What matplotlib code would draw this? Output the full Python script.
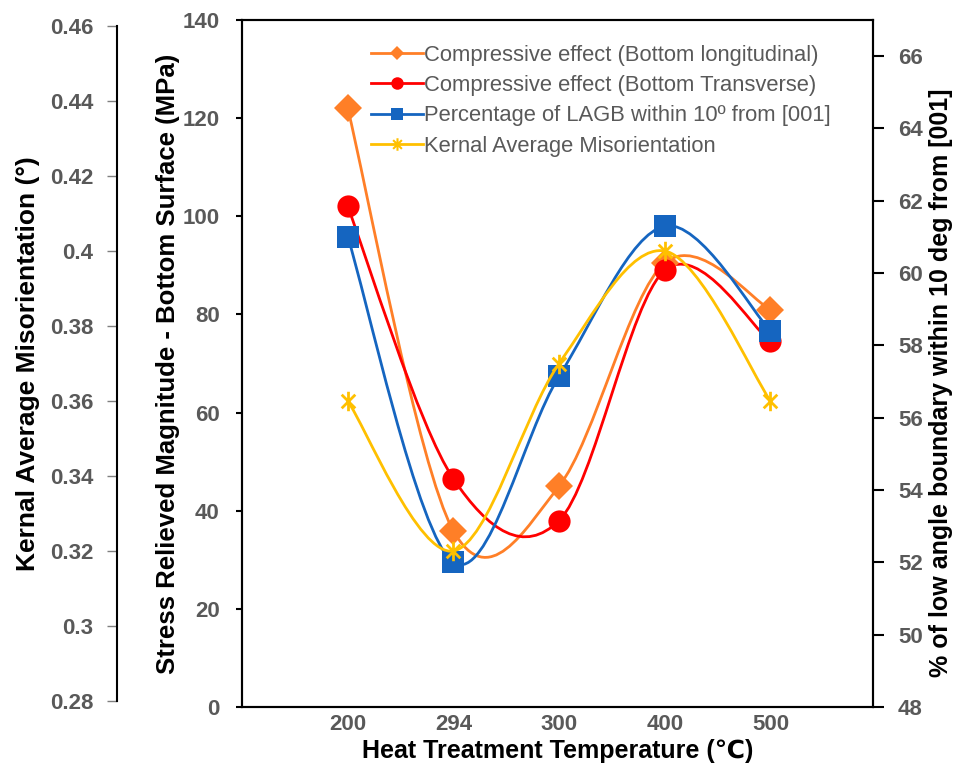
import numpy as np
import matplotlib as mpl
mpl.use('Agg')
from matplotlib import pyplot as plt
from matplotlib.path import Path
from matplotlib.patches import PathPatch
from matplotlib.lines import Line2D

mpl.rcParams.update({
    'font.family': ['Liberation Sans', 'DejaVu Sans'],
    'axes.linewidth': 1.5,
})

# data
temps = ['200', '294', '300', '400', '500']
long_effect = [122, 35.9, 45, 90.5, 81]        # MPa, left axis
trans_effect = [102, 46.5, 38, 89, 74.5]       # MPa, left axis
lagb_pct = [61.0, 52.0, 57.15, 61.3, 58.4]     # %, right axis
kam = [0.36, 0.32, 0.37, 0.40, 0.36]           # deg, far-left axis

labels = ['Compressive effect (Bottom longitudinal)',
          'Compressive effect (Bottom Transverse)',
          'Percentage of LAGB within 10\u00ba from [001]',
          'Kernal Average Misorientation']
colors = ['#FF7F27', '#FF0000', '#1565C0', '#FFC000']

TICK_GREY = '#595959'


def smooth_path(x, y):
    # Excel-like smoothed line: cubic Bezier through points (Catmull-Rom tangents)
    p = np.column_stack([x, y]).astype(float)
    n = len(p)
    verts = [p[0]]
    codes = [Path.MOVETO]
    for i in range(n - 1):
        p0 = p[i - 1] if i > 0 else p[i]
        p3 = p[i + 2] if i + 2 < n else p[i + 1]
        c1 = p[i] + (p[i + 1] - p0) / 6.0
        c2 = p[i + 1] - (p3 - p[i]) / 6.0
        verts += [c1, c2, p[i + 1]]
        codes += [Path.CURVE4] * 3
    return Path(verts, codes)


def draw_series(ax, y, color, marker, ms, mew=0):
    x = np.arange(len(y))
    ax.add_patch(PathPatch(smooth_path(x, y), fill=False, edgecolor=color,
                           linewidth=2.0, zorder=2))
    ax.plot(x, y, linestyle='none', marker=marker, markersize=ms,
            color=color, markeredgecolor=color, markeredgewidth=mew, zorder=3)


def style_ticklabels(a, which):
    labs = a.get_xticklabels() if which == 'x' else a.get_yticklabels()
    for lab in labs:
        lab.set_fontsize(16)
        lab.set_fontweight('bold')
        lab.set_color(TICK_GREY)


# asterisk marker like Excel "star"
star = Path([(-0.7, -0.7), (0.7, 0.7), (-0.7, 0.7), (0.7, -0.7), (0, -1), (0, 1)],
            [Path.MOVETO, Path.LINETO, Path.MOVETO, Path.LINETO, Path.MOVETO, Path.LINETO])

fig = plt.figure(figsize=(9.59, 7.71), dpi=100)
W, H = 959, 771
L, R, B, T = 242, 873, 707, 20
ax = fig.add_axes([L / W, 1 - B / H, (R - L) / W, (B - T) / H])
axr = ax.twinx()
# far-left KAM axis is a bit shorter than the main one
kt, kb = 26, 701
axk = fig.add_axes([L / W, 1 - kb / H, (R - L) / W, (kb - kt) / H])
axk.patch.set_visible(False)

xlim = (-1.0, 4.97)
for a in (ax, axr, axk):
    a.set_xlim(*xlim)

draw_series(ax, long_effect, colors[0], 'D', 14)
draw_series(ax, trans_effect, colors[1], 'o', 16)
draw_series(axr, lagb_pct, colors[2], 's', 16)
draw_series(axk, kam, colors[3], star, 14, mew=2)

# main axis
ax.set_ylim(0, 140)
ax.set_yticks(np.arange(0, 141, 20))
ax.set_xticks(range(len(temps)))
ax.set_xticklabels(temps)
ax.tick_params(axis='x', length=0, pad=5)
ax.tick_params(axis='y', direction='out', length=4, width=1.5, pad=12)
style_ticklabels(ax, 'x')
style_ticklabels(ax, 'y')
ax.set_xlabel('Heat Treatment Temperature (\u2103)', fontsize=18,
              fontweight='bold', labelpad=3)
ax.set_ylabel('Stress Relieved Magnitude - Bottom Surface (MPa)', fontsize=18.5,
              fontweight='bold', labelpad=2)

# right axis
axr.set_ylim(48, 67)
axr.set_yticks(np.arange(48, 67, 2))
axr.tick_params(axis='y', direction='out', length=8, width=1.5, pad=10)
style_ticklabels(axr, 'y')
axr.set_ylabel('% of low angle boundary within 10 deg from [001]', fontsize=18,
               fontweight='bold')
axr.yaxis.set_label_coords(1.088, 0.472)

# far-left axis
axk.set_ylim(0.28, 0.46)
axk.set_yticks(np.arange(0.28, 0.461, 0.02))
axk.set_yticklabels(['0.28', '0.3', '0.32', '0.34', '0.36', '0.38',
                     '0.4', '0.42', '0.44', '0.46'])
for s in ('top', 'right', 'bottom'):
    axk.spines[s].set_visible(False)
axk.spines['left'].set_position(('axes', (117 - L) / (R - L)))
axk.spines['left'].set_linewidth(1.5)
axk.set_xticks([])
axk.tick_params(axis='y', direction='out', length=7, width=1, color='#7f7f7f', pad=10)
style_ticklabels(axk, 'y')
axk.set_ylabel('Kernal Average Misorientation (\u00b0)', fontsize=19,
               fontweight='bold', labelpad=7)

# legend
markers = ['D', 'o', 's', star]
sizes = [7, 9, 8, 9]
handles = [Line2D([], [], color=c, linewidth=2, marker=m, markersize=s,
                  markeredgecolor=c, markeredgewidth=(1.5 if m is star else 0))
           for c, m, s in zip(colors, markers, sizes)]
leg = axk.legend(handles, labels, loc='upper left', bbox_to_anchor=(0.19, 0.985),
                 frameon=False, fontsize=15.8, handlelength=2.4, handletextpad=0.05,
                 labelspacing=0.42, borderaxespad=0)
for t in leg.get_texts():
    t.set_color(TICK_GREY)

fig.savefig('out.png', dpi=100)
